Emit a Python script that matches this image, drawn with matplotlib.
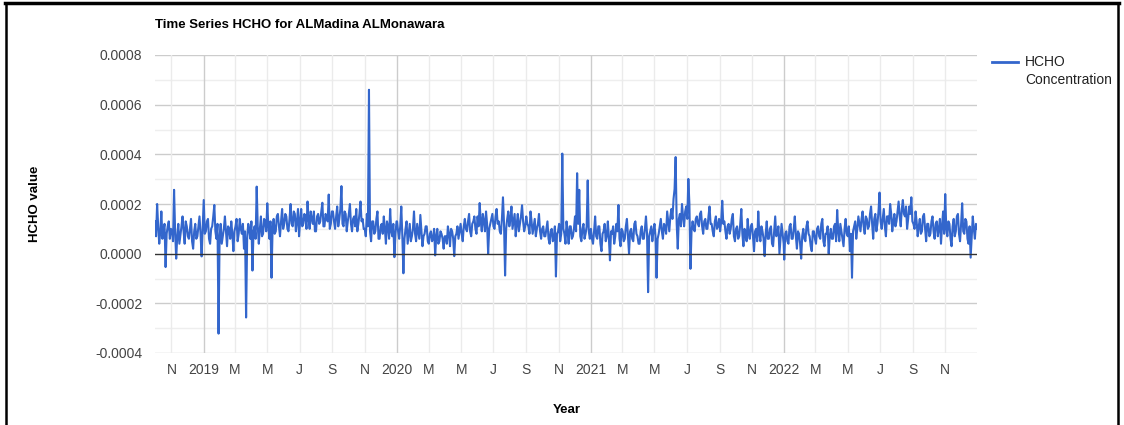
import pandas as pd
import matplotlib
matplotlib.use("Agg")
import matplotlib.pyplot as plt
from matplotlib.lines import Line2D

plt.rcParams["font.family"] = ["Liberation Sans", "DejaVu Sans"]

# HCHO values, in units of 1e-6, one value every 2 days
hcho_2018 = [130, 70, 200, 110, 40, 90, 170, 60, 95, 120, -54, 80, 110, 130, 60, 100,
             95, 50, 257, 90, -20, 70, 120, 40, 75, 110, 150, 90, 40, 130, 110, 70,
             60, 100, 140, 50, 20, 90, 120, 60, 70, 110, 150, 80, -11, 100]
hcho_2019 = [216, 80, 90, 130, 140, 60, 40, 100, 110, 150, 196, 90, 60, 120, -322, 70,
             120, 40, 70, 100, 150, 90, 30, 110, 100, 60, 130, 80, 10, 90,
             110, 140, 50, 80, 140, 100, 80, 120, 20, 90, -257, 60, 120, 100, 60, 130,
             -68, 90, 110, 60, 270, 110, 40, 100, 150, 70, 80, 140, 130, 90,
             203, 110, 60, 130, -97, 100, 140, 80, 90, 150, 160, 110, 70, 130, 180, 100,
             120, 160, 150, 100, 90, 140, 200, 120, 110, 170, 160, 90, 130, 180, 70, 130,
             180, 110, 120, 160, 150, 100, 210, 140, 100, 170, 140, 120, 170, 90,
             90, 150, 160, 120, 130, 170, 205, 110, 110, 160, 150, 130, 238, 100, 120, 170,
             170, 130, 100, 150, 190, 110, 140, 180, 272, 120, 110, 170, 160, 90, 130, 160,
             200, 120, 90, 140, 150, 110, 180, 90, 120, 160, 210, 130, 140, 100,
             100, 70, 160, 110, 660, 90, 50, 130, 130, 80, 90, 140, 170, 60, 60, 110,
             120, 80, 150, 100, 40, 130, 110, 60, 180, 90, 70, 120, -14, 80, 130]
hcho_2020 = [130, 90, 60, 110, 190, 70, -79, 60, 100, 130, 40, 80, 120, 50, 70, 100,
             170, 80, 50, 120, 90, 60, 156, 90, 30, 70, 80, 110, 110, 50,
             40, 80, 90, 50, 60, 100, -7, 70, 100, 40, 50, 90, 80, 60, 20, 70,
             70, 40, 110, 80, 30, 100, 90, 60, -10, 70, 80, 110, 60, 90,
             120, 80, 50, 110, 140, 100, 90, 130, 160, 90, 70, 120, 130, 150, 100, 80,
             150, 110, 204, 130, 90, 160, 130, 90, 170, 120, 0, 100, 120, 140, 160, 110,
             100, 150, 180, 120, 130, 90, 80, 140, 227, 120, -88, 100, 140, 170,
             110, 140, 190, 100, 130, 160, 70, 120, 160, 90, 120, 150, 195, 130, 90, 110,
             150, 120, 110, 80, 170, 130, 80, 110, 140, 70, 100, 120, 160, 90, 60, 100,
             110, 70, 70, 100, 130, 60, 40, 90, 100, 50, 60, 110, -92, 80,
             90, 120, 50, 80, 403, 100, 80, 40, 130, 90, 40, 110, 110, 60, 70, 100,
             150, 90, 324, 120, 257, 70, 50, 100, 120, 60, 80, 110, 295, 90, 60]
hcho_2021 = [100, 60, 40, 90, 150, 70, 60, 110, 110, 40, 10, 80, 90, 120, 50, 70,
             130, 60, -27, 90, 80, 110, 40, 70, 120, 90, 196, 60, 30, 100,
             90, 50, 60, 110, 140, 70, 0, 90, 100, 60, 50, 120, 130, 80, 70, 40,
             40, 90, 110, 60, 60, 100, 150, 80, -155, 70, 90, 110, 50, 90,
             120, 70, -97, 60, 80, 110, 140, 90, 60, 120, 110, 80, 170, 130, 90, 150,
             180, 140, 220, 260, 389, 120, 20, 140, 160, 110, 200, 150, 110, 170, 190, 140,
             301, 200, -61, 90, 130, 100, 90, 140, 150, 120, 110, 160, 170, 110,
             80, 130, 140, 100, 100, 150, 190, 120, 120, 90, 70, 130, 150, 100, 110, 140,
             90, 130, 213, 120, 130, 90, 60, 110, 120, 80, 100, 140, 160, 70, 50, 100,
             110, 60, 70, 120, 180, 80, 30, 100, 90, 50, 140, 80, 60, 110,
             120, 70, 10, 90, 100, 50, 170, 80, 50, 110, 90, 60, -10, 80, 130, 60,
             60, 100, 110, 40, 30, 90, 150, 70, 80, 110, 0, 60, 120, 80, 40]
hcho_2022 = [-24, 80, 90, 50, 40, 110, 120, 60, 60, 100, 150, 70, 20, 90, 80, 40,
             -20, 70, 100, 60, 50, 110, 130, 80, 70, 30, 10, 90, 90, 60,
             40, 100, 110, 70, 60, 120, 140, 50, 30, 80, 80, 110, 0, 70, 100, 60,
             60, 110, 120, 50, 176, 90, 50, 120, 90, 60, 30, 100, 140, 80,
             70, 110, 10, 80, -97, 90, 110, 130, 60, 100, 150, 120, 90, 140, 170, 110,
             80, 150, 140, 100, 110, 160, 190, 120, 60, 140, 160, 90, 120, 170, 246, 130,
             100, 140, 180, 110, 70, 150, 150, 120, 200, 160, 90, 130, 160, 110,
             130, 170, 210, 150, 110, 180, 216, 160, 150, 190, 100, 140, 190, 160, 227, 130,
             120, 100, 170, 130, 70, 110, 140, 80, 90, 150, 160, 100, 50, 120, 120, 70,
             80, 130, 150, 90, 60, 120, 130, 70, 100, 140, 40, 110, 170, 80,
             240, 100, 70, 130, 120, 60, 30, 110, 140, 70, 90, 150, 160, 80, 50, 120,
             203, 90, 80, 140, 130, 60, 40, 110, -16, 70, 150, 100, 60, 120, 100]

month_letters = {3: "M", 5: "M", 7: "J", 9: "S", 11: "N"}

parts = []
for start, end, vals in [("2018-10-01", "2018-12-31", hcho_2018),
                         ("2019-01-01", "2019-12-31", hcho_2019),
                         ("2020-01-01", "2020-12-31", hcho_2020),
                         ("2021-01-01", "2021-12-31", hcho_2021),
                         ("2022-01-01", "2022-12-31", hcho_2022)]:
    idx = pd.date_range(start, end, freq="2D")
    parts.append(pd.Series(vals, index=idx) * 1e-6)
df = pd.concat(parts)

fig = plt.figure(figsize=(11.24, 4.25), dpi=100)
ax = fig.add_axes([155 / 1124, 1 - 353 / 425, 822 / 1124, 298 / 425])

# horizontal grid
for v in [-0.0003, -0.0001, 0.0001, 0.0003, 0.0005, 0.0007]:
    ax.axhline(v, color="#eeeeee", lw=1, zorder=0)
for v in [-0.0004, -0.0002, 0.0002, 0.0004, 0.0006, 0.0008]:
    ax.axhline(v, color="#cccccc", lw=1, zorder=0)

# vertical grid + tick labels every 2 months
ticks = pd.date_range("2018-11-01", "2022-11-01", freq="2MS")
labels = []
for t in ticks:
    if t.month == 1:
        ax.axvline(t, color="#cccccc", lw=1, zorder=0)
        labels.append(str(t.year))
    else:
        ax.axvline(t, color="#ebebeb", lw=1, zorder=0)
        labels.append(month_letters[t.month])

ax.plot(df.index, df.values, color="#3366cc", lw=1.5, zorder=2)
ax.axhline(0, color="#333333", lw=1, zorder=3)

ax.set_xlim(df.index[0], df.index[-1])
ax.set_ylim(-0.0004, 0.0008)
ax.set_yticks([-0.0004, -0.0002, 0, 0.0002, 0.0004, 0.0006, 0.0008])
ax.set_yticklabels(["-0.0004", "-0.0002", "0.0000", "0.0002", "0.0004", "0.0006", "0.0008"])
ax.set_xticks(ticks)
ax.set_xticklabels(labels)
ax.tick_params(length=0, labelsize=10, labelcolor="#444444")
ax.tick_params(axis="y", pad=9)
ax.tick_params(axis="x", pad=7)
for s in ax.spines.values():
    s.set_visible(False)

fig.text(155 / 1124, 1 - 25 / 425, "Time Series HCHO for ALMadina ALMonawara",
         fontsize=9.5, fontweight="bold", va="center", ha="left")
fig.text(35 / 1124, 1 - 204 / 425, "HCHO value", fontsize=9.5, fontweight="bold",
         rotation=90, va="center", ha="center")
fig.text(567 / 1124, 1 - 410 / 425, "Year", fontsize=9.5, fontweight="bold",
         va="center", ha="center")

# legend
fig.add_artist(Line2D([992 / 1124, 1018 / 1124], [1 - 62 / 425, 1 - 62 / 425],
                      color="#3366cc", lw=2))
fig.text(1025 / 1124, 1 - 62 / 425, "HCHO", fontsize=10, color="#222222", va="center")
fig.text(1025 / 1124, 1 - 80 / 425, "Concentration", fontsize=10, color="#222222", va="center")

# screenshot frame
fig.add_artist(Line2D([5 / 1124, 1119 / 1124], [1 - 3 / 425, 1 - 3 / 425], color="black", lw=2.5))
fig.add_artist(Line2D([6 / 1124, 6 / 1124], [0, 1 - 3 / 425], color="black", lw=1.8))
fig.add_artist(Line2D([1118 / 1124, 1118 / 1124], [0, 1 - 3 / 425], color="black", lw=1.8))

fig.savefig("out.png", dpi=100)
